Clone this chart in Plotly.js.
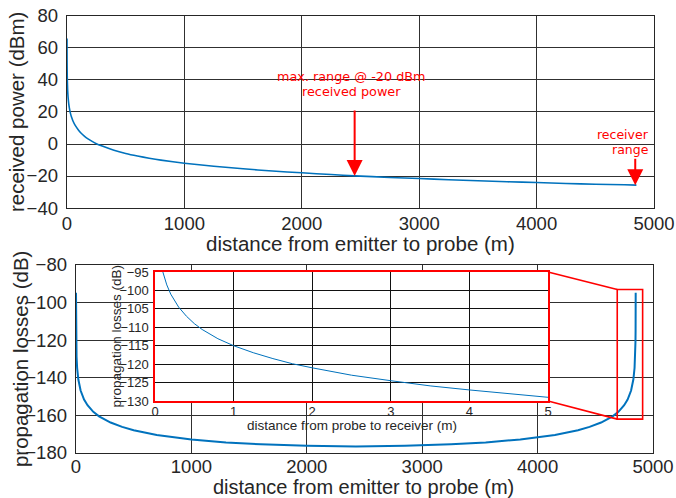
<!DOCTYPE html>
<html>
<head>
<meta charset="utf-8">
<script src="https://cdn.plot.ly/plotly-3.0.1.min.js"></script>
<style>html,body{margin:0;padding:0;background:#fff;}#chart{width:676px;height:498px;}</style>
</head>
<body>
<div id="chart"></div>
<script>
// received power vs distance from emitter to probe
const distPower = [0.15, 0.3, 0.5, 1, 2, 3, 5, 7, 10, 15, 20, 30, 40, 50, 70, 100, 130, 160, 200, 250, 300, 400, 500, 600, 700, 800, 1000, 1250, 1500, 1750, 2000, 2250, 2450, 2750, 3000, 3250, 3500, 3750, 4000, 4250, 4500, 4750, 4850];
const receivedPower = [66.0, 60.0, 55.2, 49.0, 43.0, 39.4, 34.8, 31.8, 28.7, 25.1, 22.6, 19.0, 16.5, 14.5, 11.6, 8.5, 6.1, 4.2, 2.3, 0.2, -1.3, -3.9, -5.9, -7.5, -8.9, -10.1, -12.0, -13.9, -15.5, -16.9, -18.0, -19.1, -19.9, -20.9, -21.6, -22.3, -23.0, -23.6, -24.1, -24.7, -25.1, -25.5, -25.7];

// propagation losses vs distance from emitter to probe
const distLoss = [0.1, 0.2, 0.5, 1, 2, 5, 10, 20, 40, 70, 100, 150, 200, 300, 400, 500, 700, 1000, 1300, 1600, 2000, 2425, 2850, 3250, 3550, 3850, 4150, 4350, 4450, 4550, 4650, 4700, 4750, 4780, 4810, 4830, 4840, 4845, 4848, 4849, 4849.5, 4849.8, 4849.9];
const propLoss = [-94.8, -100.8, -108.8, -114.8, -120.8, -128.8, -134.8, -140.8, -146.8, -151.6, -154.6, -158.1, -160.5, -163.8, -166.1, -167.9, -170.4, -172.8, -174.4, -175.4, -176.2, -176.5, -176.2, -175.4, -174.4, -172.8, -170.4, -167.9, -166.1, -163.8, -160.5, -158.1, -154.6, -151.6, -146.8, -140.8, -134.8, -128.8, -120.8, -114.8, -108.8, -100.8, -94.8];

// inset: losses vs distance from probe to receiver
const distInset = [0.1, 0.15, 0.2, 0.3, 0.4, 0.5, 0.6, 0.8, 1, 1.25, 1.5, 1.75, 2, 2.5, 3, 3.5, 4, 4.5, 5];
const lossInset = [-95, -98.5, -101.0, -104.5, -107.0, -109.0, -110.6, -113.1, -115.0, -116.9, -118.5, -119.9, -121.0, -123.0, -124.5, -125.9, -127.0, -128.1, -129.0];

const xTicksMain = [0, 1000, 2000, 3000, 4000, 5000];
const yTicksPower = [-40, -20, 0, 20, 40, 60, 80];
const yTicksLoss = [-180, -160, -140, -120, -100, -80];
const xTicksInset = [0, 1, 2, 3, 4, 5];
const yTicksInset = [-130, -125, -120, -115, -110, -105, -100, -95];

const blue = '#0072bd';
const ink = '#262626';
const red = '#ff0000';
const sans = 'Liberation Sans, Arial, sans-serif';

const traces = [
  {x: distPower, y: receivedPower, xaxis: 'x', yaxis: 'y', mode: 'lines', line: {color: blue, width: 1.6, shape: 'spline', smoothing: 0.6}, hoverinfo: 'skip'},
  {x: distLoss, y: propLoss, xaxis: 'x2', yaxis: 'y2', mode: 'lines', line: {color: blue, width: 2}, hoverinfo: 'skip'},
  {x: distInset, y: lossInset, xaxis: 'x3', yaxis: 'y3', mode: 'lines', line: {color: blue, width: 1}, hoverinfo: 'skip'}
];

function ax(extra) {
  return Object.assign({
    showgrid: true, gridcolor: '#303030', gridwidth: 1,
    showline: true, mirror: true, linecolor: ink, linewidth: 1.3,
    zeroline: false, ticks: '', fixedrange: true,
    tickfont: {family: sans, size: 18.5, color: ink}
  }, extra);
}

const insetTick = {family: sans, size: 13, color: ink};

const layout = {
  width: 676, height: 498,
  margin: {l: 0, r: 0, t: 0, b: 0},
  paper_bgcolor: '#fff', plot_bgcolor: '#fff',
  showlegend: false,
  xaxis: ax({domain: [0.0991, 0.9675], anchor: 'y', range: [0, 5000], tickvals: xTicksMain, ticklabelstandoff: -2}),
  yaxis: ax({domain: [0.5823, 0.9679], anchor: 'x', range: [-40, 80], tickvals: yTicksPower, ticklabelstandoff: 4}),
  xaxis2: ax({domain: [0.1124, 0.9660], anchor: 'y2', range: [0, 5000], tickvals: xTicksMain, ticklabelstandoff: -3}),
  yaxis2: ax({domain: [0.0904, 0.4679], anchor: 'x2', range: [-180, -80], tickvals: yTicksLoss, ticklabelstandoff: 4}),
  xaxis3: ax({domain: [0.2293, 0.8107], anchor: 'y3', range: [0, 5], tickvals: xTicksInset, linecolor: red, linewidth: 1.6,
              gridcolor: '#111', tickfont: insetTick, ticklabelstandoff: -2}),
  yaxis3: ax({domain: [0.1948, 0.4538], anchor: 'x3', range: [-130, -95], tickvals: yTicksInset, linecolor: red, linewidth: 1.6,
              gridcolor: '#111', tickfont: insetTick, ticklabelstandoff: 2}),
  shapes: [
    {type: 'rect', xref: 'x3 domain', yref: 'y3 domain', x0: 0, x1: 1, y0: 0, y1: 1, fillcolor: '#fff', line: {width: 0}, layer: 'below'},
    {type: 'rect', xref: 'x2', yref: 'y2', x0: 4690, x1: 4910, y0: -162, y1: -93, line: {color: red, width: 1.6}},
    {type: 'line', xref: 'x2', yref: 'y2', x0: 4090, y0: -83.72, x1: 4690, y1: -93, line: {color: red, width: 1.6}},
    {type: 'line', xref: 'x2', yref: 'y2', x0: 4090, y0: -152.34, x1: 4690, y1: -162, line: {color: red, width: 1.6}}
  ],
  annotations: [
    // axis titles
    {xref: 'paper', yref: 'paper', x: 0.5333, y: 0.512, text: 'distance from emitter to probe (m)', showarrow: false, xanchor: 'center', yanchor: 'middle', font: {family: sans, size: 20.5, color: ink}},
    {xref: 'paper', yref: 'paper', x: 0.0237, y: 0.775, text: 'received power (dBm)', textangle: -90, showarrow: false, xanchor: 'center', yanchor: 'middle', font: {family: sans, size: 20.5, color: ink}},
    {xref: 'paper', yref: 'paper', x: 0.537, y: 0.023, text: 'distance from emitter to probe (m)', showarrow: false, xanchor: 'center', yanchor: 'middle', font: {family: sans, size: 20, color: ink}},
    {xref: 'paper', yref: 'paper', x: 0.0296, y: 0.279, text: 'propagation losses (dB)', textangle: -90, showarrow: false, xanchor: 'center', yanchor: 'middle', font: {family: sans, size: 20.5, color: ink}},
    {xref: 'paper', yref: 'paper', x: 0.173, y: 0.326, text: 'propagation losses (dB)', textangle: -90, showarrow: false, xanchor: 'center', yanchor: 'middle', font: {family: sans, size: 13.5, color: ink}},
    {xref: 'paper', yref: 'paper', x: 0.5207, y: 0.146, text: 'distance from probe to receiver (m)', showarrow: false, xanchor: 'center', yanchor: 'middle', font: {family: sans, size: 13.5, color: ink}},
    // red notes
    {xref: 'x', yref: 'y', x: 2425, y: 41.9, text: 'max. range @ -20 dBm', showarrow: false, xanchor: 'center', yanchor: 'middle', font: {family: 'DejaVu Sans', size: 12.8, color: red}},
    {xref: 'x', yref: 'y', x: 2425, y: 32.6, text: 'received power', showarrow: false, xanchor: 'center', yanchor: 'middle', font: {family: 'DejaVu Sans', size: 12.8, color: red}},
    {xref: 'x', yref: 'y', x: 4975, y: 6.0, text: 'receiver', showarrow: false, xanchor: 'right', yanchor: 'middle', font: {family: 'DejaVu Sans', size: 12.5, color: red}},
    {xref: 'x', yref: 'y', x: 4975, y: -3.4, text: 'range', showarrow: false, xanchor: 'right', yanchor: 'middle', font: {family: 'DejaVu Sans', size: 12.5, color: red}},
    {xref: 'x', yref: 'y', x: 2450, y: -20.0, text: '', showarrow: true, ax: 0, ay: -67, arrowhead: 2, arrowsize: 1.6, arrowwidth: 2, arrowcolor: red, standoff: 0},
    {xref: 'x', yref: 'y', x: 4840, y: -25.7, text: '', showarrow: true, ax: 0, ay: -28, arrowhead: 2, arrowsize: 1.6, arrowwidth: 2, arrowcolor: red, standoff: 0}
  ]
};

Plotly.newPlot('chart', traces, layout, {staticPlot: true, displayModeBar: false});
</script>
</body>
</html>
